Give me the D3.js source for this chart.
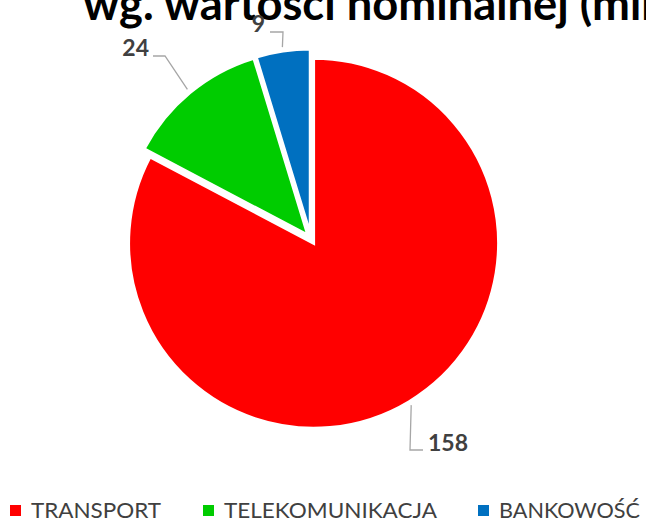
<!DOCTYPE html>
<html>
<head>
<meta charset="utf-8">
<script src="https://cdnjs.cloudflare.com/ajax/libs/d3/7.8.5/d3.min.js"></script>
<style>
  html, body { margin: 0; padding: 0; background: #fff; overflow: hidden; }
  svg { display: block; font-family: Lato, "Open Sans", sans-serif; }
</style>
</head>
<body>
<div id="chart"></div>
<script>
// dane
const categories = ["TRANSPORT", "TELEKOMUNIKACJA", "BANKOWOŚĆ"];
const values = [158, 24, 9];
const colors = ["#ff0000", "#00cc00", "#0070c0"];
const titleText = "wg. wartości nominalnej (mln zł)";

const width = 646, height = 521;
const cx = 311, cy = 239, radius = 185, explode = 5;

// leader line elbows / label anchors (layout only)
const labelLayout = [
    {elbow: [410, 450], end: [423, 450], anchor: "start", tx: 428, ty: 451},
    {elbow: [165, 56], end: [153, 56], anchor: "end", tx: 149, ty: 56},
    {elbow: [283, 32], end: [270, 32], anchor: "end", tx: 265, ty: 32}
];
// legend layout: square x, text width (Calibri-like widths in the original)
const legendX = [10, 203, 478];
const legendW = [130, 213, 141];

const data = categories.map((c, i) => ({name: c, value: values[i], color: colors[i]}));

const svg = d3.select("#chart")
    .append("svg")
    .attr("width", width)
    .attr("height", height);

// tytul (ucięty u góry jak w oryginale)
const title = svg.append("text")
    .attr("x", 83)
    .attr("y", 20)
    .attr("font-weight", "bold")
    .attr("font-size", 40)
    .attr("fill", "#000")
    .text(titleText);
// dopasuj rozmiar, tak zeby "(m" konczylo sie ok. x=630
const probe = svg.append("text").attr("font-weight", "bold").attr("font-size", 40)
    .text("wg. wartości nominalnej (m");
const pw = probe.node().getComputedTextLength();
probe.remove();
title.attr("font-size", 40 * 547 / pw);

const pie = d3.pie().sort(null).value(d => d.value);
const arcs = pie(data);
const arc = d3.arc().innerRadius(0).outerRadius(radius);

const g = svg.append("g").attr("transform", "translate(" + cx + "," + cy + ")");

g.selectAll("path.slice")
    .data(arcs)
    .enter().append("path")
    .attr("class", "slice")
    .attr("transform", d => {
        const a = (d.startAngle + d.endAngle) / 2;
        return "translate(" + (Math.sin(a) * explode) + "," + (-Math.cos(a) * explode) + ")";
    })
    .attr("d", arc)
    .attr("fill", d => d.data.color)
    .attr("stroke", "#fff")
    .attr("stroke-width", 3)
    .attr("stroke-linejoin", "miter");

// linie odniesienia + etykiety
arcs.forEach((d, i) => {
    const a = (d.startAngle + d.endAngle) / 2;
    const rr = radius + explode + 4;
    const p0 = [cx + Math.sin(a) * rr, cy - Math.cos(a) * rr];
    const L = labelLayout[i];
    svg.append("path")
        .attr("d", d3.line()([p0, L.elbow, L.end]))
        .attr("fill", "none")
        .attr("stroke", "#a6a6a6")
        .attr("stroke-width", 1.3);
    svg.append("text")
        .attr("x", L.tx)
        .attr("y", L.ty)
        .attr("text-anchor", L.anchor)
        .attr("font-weight", "bold")
        .attr("font-size", 23)
        .attr("fill", "#404040")
        .text(d.data.value);
});

// legenda
const legend = svg.append("g");
data.forEach((d, i) => {
    legend.append("rect")
        .attr("x", legendX[i])
        .attr("y", 505)
        .attr("width", 11)
        .attr("height", 11)
        .attr("fill", d.color);
    legend.append("text")
        .attr("x", legendX[i] + 21)
        .attr("y", 518)
        .attr("font-size", 21)
        .attr("fill", "#404040")
        .attr("textLength", legendW[i])
        .attr("lengthAdjust", "spacingAndGlyphs")
        .text(d.name);
});
</script>
</body>
</html>
